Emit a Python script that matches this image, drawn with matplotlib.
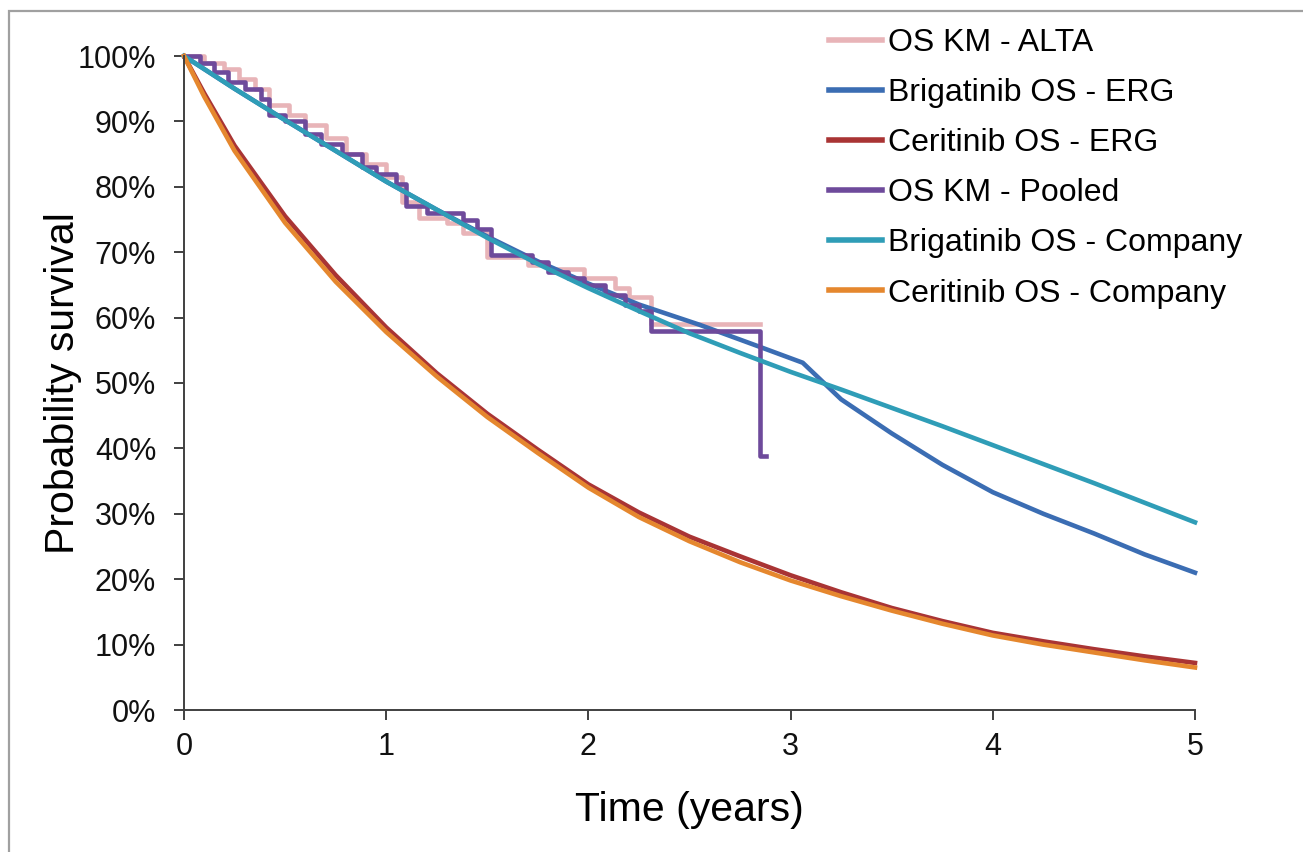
import numpy as np
import matplotlib
matplotlib.use('Agg')
import matplotlib.pyplot as plt
from matplotlib.patches import Rectangle
from matplotlib.ticker import PercentFormatter

plt.rcParams['font.family'] = ['Liberation Sans', 'DejaVu Sans']

# parametric curves (time in years, survival in %)
t_grid = [0, 0.1, 0.25, 0.5, 0.75, 1, 1.25, 1.5, 1.75, 2, 2.25, 2.5, 2.75, 3,
          3.25, 3.5, 3.75, 4, 4.25, 4.5, 4.75, 5]
ceritinib_erg = [100, 94.3, 86.3, 75.5, 66.5, 58.5, 51.5, 45.3, 39.8, 34.5, 30.2, 26.5,
                 23.5, 20.6, 18.0, 15.6, 13.6, 11.8, 10.5, 9.3, 8.2, 7.2]
ceritinib_company = [100, 93.8, 85.5, 74.5, 65.5, 57.8, 51, 44.8, 39.3, 34, 29.5, 25.8,
                     22.6, 19.8, 17.4, 15.2, 13.2, 11.4, 10, 8.8, 7.6, 6.5]
brigatinib_company = [100, 98, 95, 90.2, 85.5, 80.8, 76.5, 72.2, 68.2, 64.5, 61, 57.6,
                      54.6, 51.7, 49.0, 46.2, 43.4, 40.5, 37.6, 34.7, 31.7, 28.7]

brig_erg_t = [0, 0.25, 0.5, 0.75, 1, 1.25, 1.5, 1.75, 2, 2.25, 2.55, 2.85, 3.06,
              3.25, 3.5, 3.75, 4, 4.25, 4.5, 4.75, 5]
brigatinib_erg = [100, 95, 90.2, 85.5, 80.8, 76.5, 72.4, 68.6, 65.2, 62, 58.9,
                  55.5, 53.1, 47.5, 42.3, 37.5, 33.3, 30, 27, 23.8, 21]

# Kaplan-Meier steps
km_alta_t = [0, 0.1, 0.2, 0.27, 0.35, 0.42, 0.52, 0.6, 0.7, 0.8, 0.9, 1.0, 1.08,
             1.16, 1.3, 1.38, 1.5, 1.7, 1.8, 1.98, 2.13, 2.2, 2.31, 2.85]
km_alta = [100, 99, 98, 96.5, 95, 92.5, 91, 89.5, 87.5, 85, 83.5, 81.5, 77.7,
           75.3, 74.5, 73, 69.3, 68, 67.5, 66.1, 64.5, 63.2, 59, 59]

km_pooled_t = [0, 0.08, 0.15, 0.22, 0.3, 0.38, 0.42, 0.5, 0.6, 0.68, 0.78, 0.88,
               0.95, 1.05, 1.1, 1.2, 1.38, 1.45, 1.52, 1.72, 1.8, 1.9, 1.98,
               2.08, 2.18, 2.25, 2.31, 2.85, 2.88]
km_pooled = [100, 99, 97.5, 96, 95, 93.5, 91, 90, 88, 86.5, 85, 83, 82, 80.5,
             77, 76, 75, 73.5, 69.5, 68.5, 67, 66, 65, 63.5, 62, 61, 58, 38.8, 38.8]

labels = ['OS KM - ALTA', 'Brigatinib OS - ERG', 'Ceritinib OS - ERG',
          'OS KM - Pooled', 'Brigatinib OS - Company', 'Ceritinib OS - Company']
colors = ['#e8b4b8', '#3b6db3', '#a93434', '#6e4a9b', '#2f9db7', '#e5872e']

fig = plt.figure(figsize=(13.03, 8.52), dpi=100)
ax = fig.add_axes([184/1303, 1 - 710/852, (1195-184)/1303, (710-56)/852])

lw = 3.3
ax.plot(km_alta_t, km_alta, drawstyle='steps-post', color=colors[0], lw=lw, label=labels[0], clip_on=False)
ax.plot(brig_erg_t, brigatinib_erg, color=colors[1], lw=lw, label=labels[1], clip_on=False)
ax.plot(t_grid, ceritinib_erg, color=colors[2], lw=lw, label=labels[2], clip_on=False)
ax.plot(km_pooled_t, km_pooled, drawstyle='steps-post', color=colors[3], lw=lw, label=labels[3], clip_on=False)
ax.plot(t_grid, brigatinib_company, color=colors[4], lw=lw, label=labels[4], clip_on=False)
ax.plot(t_grid, ceritinib_company, color=colors[5], lw=lw, label=labels[5], clip_on=False)

ax.set_xlim(0, 5)
ax.set_ylim(0, 100)
ax.set_xticks(range(0, 6))
ax.set_yticks(range(0, 101, 10))
ax.yaxis.set_major_formatter(PercentFormatter(decimals=0))
for s in ['top', 'right']:
    ax.spines[s].set_visible(False)
for s in ['left', 'bottom']:
    ax.spines[s].set_color('#404040')
    ax.spines[s].set_linewidth(1.4)
ax.tick_params(axis='both', colors='#404040', width=1.4, length=7, labelsize=22,
               labelcolor='#111111')
ax.tick_params(axis='y', pad=13)
ax.tick_params(axis='x', pad=9)

ax.set_xlabel('Time (years)', fontsize=29.5, labelpad=21)
ax.set_ylabel('Probability survival', fontsize=29.5)
ax.yaxis.set_label_coords(-0.101, 0.5)

leg = ax.legend(loc='upper left', bbox_to_anchor=(645/1011, 1.043), frameon=False,
                fontsize=23, handlelength=1.65, handletextpad=0.2, labelspacing=0.63,
                borderaxespad=0, borderpad=0)
for h in leg.get_lines():
    h.set_linewidth(4)

fig.patches.append(Rectangle((9/1303, -0.1), 1.2, 1 - 11/852 + 0.1,
                             transform=fig.transFigure, fill=False,
                             edgecolor='#a0a0a0', lw=1.6))

fig.savefig('out.png', dpi=100)
